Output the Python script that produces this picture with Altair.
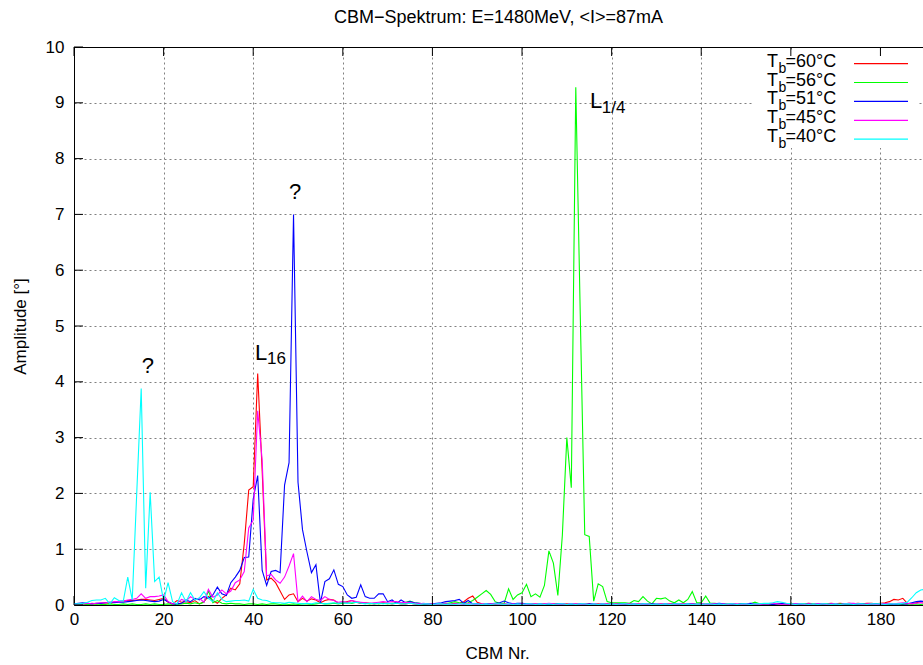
import altair as alt
import pandas as pd

# ---------------- data ----------------
cbm_nr = list(range(191))

amp_60 = [
    0.01, 0.02, 0.02, 0.01, 0.03, 0.02, 0.03, 0.04, 0.03, 0.05,
    0.06, 0.07, 0.08, 0.08, 0.09, 0.10, 0.10, 0.09, 0.08, 0.10,
    0.12, 0.05, 0.02, 0.08, 0.05, 0.06, 0.04, 0.08, 0.02, 0.06,
    0.15, 0.08, 0.03, 0.12, 0.18, 0.30, 0.27, 0.38, 1.10, 2.06,
    2.12, 4.15, 2.40, 0.45, 0.48, 0.40, 0.25, 0.10, 0.18, 0.20,
    0.06, 0.12, 0.07, 0.11, 0.09, 0.04, 0.08, 0.10, 0.09, 0.03,
    0.04, 0.06, 0.08, 0.05, 0.03, 0.04, 0.03, 0.02, 0.03, 0.04,
    0.03, 0.02, 0.03, 0.02, 0.02, 0.03, 0.02, 0.01, 0.02, 0.02,
    0.02, 0.01, 0.02, 0.03, 0.02, 0.03, 0.03, 0.06, 0.12, 0.16,
    0.05, 0.02, 0.01, 0.02, 0.01, 0.02, 0.02, 0.01, 0.02, 0.01,
    0.02, 0.01, 0.02, 0.02, 0.01, 0.02, 0.01, 0.02, 0.02, 0.01,
    0.02, 0.01, 0.02, 0.01, 0.02, 0.02, 0.01, 0.02, 0.01, 0.02,
    0.01, 0.02, 0.02, 0.01, 0.02, 0.01, 0.02, 0.01, 0.02, 0.02,
    0.01, 0.02, 0.01, 0.02, 0.02, 0.01, 0.02, 0.01, 0.02, 0.02,
    0.01, 0.02, 0.02, 0.01, 0.02, 0.01, 0.02, 0.02, 0.01, 0.02,
    0.02, 0.01, 0.02, 0.01, 0.02, 0.02, 0.01, 0.02, 0.02, 0.01,
    0.02, 0.01, 0.02, 0.02, 0.03, 0.02, 0.01, 0.02, 0.02, 0.03,
    0.02, 0.03, 0.02, 0.03, 0.02, 0.03, 0.02, 0.03, 0.03, 0.02,
    0.03, 0.04, 0.06, 0.10, 0.09, 0.12, 0.03, 0.02, 0.04, 0.06, 0.05,
]

amp_56 = [
    0.01, 0.01, 0.02, 0.01, 0.01, 0.02, 0.01, 0.01, 0.02, 0.01,
    0.01, 0.02, 0.01, 0.02, 0.01, 0.01, 0.02, 0.01, 0.02, 0.01,
    0.01, 0.02, 0.01, 0.01, 0.02, 0.03, 0.02, 0.04, 0.02, 0.05,
    0.25, 0.04, 0.08, 0.03, 0.02, 0.03, 0.02, 0.02, 0.01, 0.02,
    0.02, 0.01, 0.02, 0.01, 0.02, 0.02, 0.01, 0.02, 0.01, 0.02,
    0.01, 0.02, 0.02, 0.01, 0.02, 0.03, 0.02, 0.02, 0.03, 0.02,
    0.03, 0.04, 0.03, 0.05, 0.04, 0.03, 0.02, 0.03, 0.02, 0.03,
    0.02, 0.03, 0.04, 0.03, 0.05, 0.07, 0.04, 0.03, 0.02, 0.02,
    0.02, 0.01, 0.02, 0.02, 0.04, 0.06, 0.04, 0.03, 0.04, 0.08,
    0.14, 0.20, 0.26, 0.19, 0.06, 0.03, 0.03, 0.29, 0.10, 0.18,
    0.22, 0.37, 0.15, 0.20, 0.14, 0.35, 0.97, 0.75, 0.17, 1.25,
    3.00, 2.10, 9.28, 5.20, 1.26, 1.23, 0.07, 0.38, 0.33, 0.06,
    0.04, 0.04, 0.04, 0.04, 0.03, 0.08, 0.06, 0.15, 0.07, 0.02,
    0.12, 0.11, 0.13, 0.07, 0.04, 0.09, 0.04, 0.10, 0.24, 0.04,
    0.04, 0.16, 0.03, 0.03, 0.02, 0.02, 0.01, 0.02, 0.01, 0.02,
    0.01, 0.02, 0.05, 0.02, 0.01, 0.02, 0.01, 0.02, 0.01, 0.01,
    0.02, 0.01, 0.01, 0.02, 0.01, 0.02, 0.01, 0.01, 0.02, 0.01,
    0.01, 0.02, 0.01, 0.02, 0.01, 0.01, 0.02, 0.01, 0.02, 0.01,
    0.02, 0.01, 0.02, 0.01, 0.02, 0.01, 0.02, 0.01, 0.02, 0.01, 0.02,
]

amp_51 = [
    0.02, 0.03, 0.04, 0.03, 0.02, 0.03, 0.03, 0.04, 0.05, 0.04,
    0.05, 0.05, 0.06, 0.07, 0.08, 0.09, 0.08, 0.07, 0.06, 0.07,
    0.10, 0.06, 0.02, 0.02, 0.03, 0.09, 0.06, 0.12, 0.09, 0.15,
    0.12, 0.18, 0.32, 0.20, 0.17, 0.40, 0.50, 0.62, 0.85, 0.86,
    1.90, 2.32, 0.62, 0.35, 0.60, 0.62, 0.58, 2.15, 2.55, 7.00,
    2.20, 1.35, 0.95, 0.58, 0.72, 0.04, 0.42, 0.47, 0.63, 0.37,
    0.33, 0.18, 0.12, 0.14, 0.36, 0.15, 0.12, 0.12, 0.20, 0.20,
    0.06, 0.09, 0.03, 0.09, 0.04, 0.06, 0.04, 0.03, 0.02, 0.02,
    0.02, 0.03, 0.04, 0.06, 0.07, 0.08, 0.10, 0.03, 0.08, 0.02,
    0.02, 0.01, 0.02, 0.02, 0.03, 0.04, 0.07, 0.04, 0.02, 0.03,
    0.03, 0.02, 0.02, 0.01, 0.02, 0.01, 0.02, 0.01, 0.02, 0.02,
    0.01, 0.02, 0.01, 0.02, 0.01, 0.02, 0.02, 0.01, 0.02, 0.01,
    0.02, 0.01, 0.02, 0.02, 0.01, 0.02, 0.01, 0.02, 0.01, 0.02,
    0.02, 0.01, 0.02, 0.01, 0.02, 0.02, 0.01, 0.02, 0.02, 0.01,
    0.02, 0.01, 0.02, 0.02, 0.03, 0.02, 0.01, 0.02, 0.01, 0.02,
    0.02, 0.03, 0.02, 0.01, 0.02, 0.02, 0.01, 0.02, 0.03, 0.02,
    0.01, 0.02, 0.02, 0.01, 0.02, 0.01, 0.02, 0.02, 0.01, 0.02,
    0.02, 0.01, 0.02, 0.02, 0.01, 0.02, 0.02, 0.01, 0.02, 0.02,
    0.01, 0.02, 0.02, 0.01, 0.02, 0.02, 0.02, 0.04, 0.06, 0.07, 0.06,
]

amp_45 = [
    0.01, 0.02, 0.02, 0.03, 0.02, 0.03, 0.04, 0.04, 0.05, 0.06,
    0.06, 0.07, 0.09, 0.10, 0.12, 0.20, 0.12, 0.15, 0.15, 0.16,
    0.18, 0.06, 0.02, 0.03, 0.10, 0.07, 0.15, 0.10, 0.12, 0.05,
    0.28, 0.14, 0.18, 0.27, 0.20, 0.25, 0.40, 0.45, 0.60, 1.38,
    1.52, 3.48, 2.60, 0.52, 0.55, 0.45, 0.39, 0.50, 0.70, 0.92,
    0.06, 0.16, 0.06, 0.15, 0.10, 0.08, 0.15, 0.10, 0.08, 0.05,
    0.06, 0.05, 0.08, 0.06, 0.05, 0.04, 0.03, 0.04, 0.05, 0.06,
    0.05, 0.06, 0.06, 0.04, 0.05, 0.04, 0.03, 0.02, 0.03, 0.02,
    0.02, 0.01, 0.02, 0.02, 0.01, 0.02, 0.02, 0.01, 0.02, 0.02,
    0.01, 0.02, 0.01, 0.02, 0.02, 0.01, 0.02, 0.01, 0.02, 0.01,
    0.02, 0.01, 0.02, 0.02, 0.01, 0.02, 0.03, 0.02, 0.01, 0.02,
    0.01, 0.02, 0.02, 0.01, 0.02, 0.01, 0.02, 0.01, 0.02, 0.02,
    0.01, 0.02, 0.01, 0.02, 0.02, 0.01, 0.02, 0.01, 0.02, 0.01,
    0.02, 0.02, 0.01, 0.02, 0.01, 0.02, 0.02, 0.01, 0.02, 0.01,
    0.02, 0.01, 0.02, 0.02, 0.01, 0.02, 0.01, 0.02, 0.02, 0.01,
    0.02, 0.01, 0.02, 0.01, 0.02, 0.02, 0.03, 0.02, 0.01, 0.02,
    0.01, 0.02, 0.02, 0.01, 0.02, 0.01, 0.02, 0.02, 0.01, 0.02,
    0.02, 0.01, 0.02, 0.03, 0.03, 0.02, 0.01, 0.02, 0.02, 0.01,
    0.02, 0.02, 0.03, 0.02, 0.03, 0.04, 0.03, 0.02, 0.03, 0.04, 0.03,
]

amp_40 = [
    0.02, 0.02, 0.03, 0.05, 0.08, 0.09, 0.09, 0.12, 0.02, 0.13,
    0.08, 0.07, 0.50, 0.09, 2.00, 3.88, 0.30, 2.02, 0.42, 0.50,
    0.08, 0.40, 0.06, 0.02, 0.22, 0.06, 0.22, 0.09, 0.13, 0.24,
    0.12, 0.06, 0.22, 0.10, 0.06, 0.07, 0.08, 0.08, 0.09, 0.07,
    0.28, 0.12, 0.09, 0.08, 0.05, 0.04, 0.04, 0.03, 0.05, 0.04,
    0.03, 0.02, 0.03, 0.02, 0.04, 0.03, 0.02, 0.03, 0.04, 0.03,
    0.04, 0.03, 0.04, 0.05, 0.03, 0.02, 0.03, 0.02, 0.03, 0.02,
    0.03, 0.02, 0.03, 0.02, 0.02, 0.03, 0.02, 0.01, 0.02, 0.02,
    0.01, 0.02, 0.02, 0.01, 0.02, 0.01, 0.02, 0.02, 0.01, 0.02,
    0.02, 0.01, 0.02, 0.01, 0.02, 0.02, 0.01, 0.02, 0.01, 0.02,
    0.01, 0.02, 0.02, 0.01, 0.02, 0.01, 0.02, 0.01, 0.02, 0.02,
    0.01, 0.02, 0.01, 0.02, 0.02, 0.01, 0.02, 0.01, 0.02, 0.01,
    0.02, 0.01, 0.02, 0.02, 0.01, 0.02, 0.01, 0.02, 0.02, 0.01,
    0.02, 0.01, 0.02, 0.01, 0.02, 0.02, 0.01, 0.02, 0.01, 0.02,
    0.01, 0.02, 0.02, 0.01, 0.02, 0.01, 0.02, 0.02, 0.01, 0.02,
    0.02, 0.01, 0.02, 0.02, 0.03, 0.03, 0.04, 0.06, 0.05, 0.03,
    0.02, 0.01, 0.02, 0.02, 0.01, 0.02, 0.01, 0.02, 0.02, 0.01,
    0.02, 0.01, 0.02, 0.02, 0.01, 0.02, 0.02, 0.01, 0.02, 0.02,
    0.02, 0.01, 0.02, 0.02, 0.02, 0.03, 0.05, 0.13, 0.22, 0.27, 0.28,
]

temps = ["60", "56", "51", "45", "40"]
series = [amp_60, amp_56, amp_51, amp_45, amp_40]
colors = ["#ff0000", "#00ff00", "#0000ff", "#ff00ff", "#00ffff"]

x_ticks = [0, 20, 40, 60, 80, 100, 120, 140, 160, 180]
y_ticks = [0, 1, 2, 3, 4, 5, 6, 7, 8, 9, 10]

title_text = "CBM\u2212Spektrum: E=1480MeV, <I>=87mA"

# annotations (text, x, y) in data coordinates
ann_main = [("?", 15.1, 4.28), ("L", 40.4, 4.51), ("?", 48.0, 7.40), ("L", 115.2, 9.03)]
ann_sub = [("16", 43.1, 4.40), ("1/4", 117.8, 8.91)]

# ---------------- chart ----------------
FONT = "Liberation Sans"
W, H = 849, 558
PAD_L, PAD_T = 74, 47

xscale = alt.Scale(domain=[0, 189.5], nice=False, zero=False)
yscale = alt.Scale(domain=[0, 10], nice=False)

x_axis = alt.Axis(
    values=x_ticks, title="CBM Nr.", grid=True, ticks=False, tickSize=0,
    labelPadding=6, labelFlush=False, labelOverlap=False,
    domainColor="black", domainWidth=1,
    gridColor="#808080", gridDash=[2, 3], gridWidth=1,
    labelFont=FONT, labelFontSize=17, labelColor="black",
    titleFont=FONT, titleFontSize=17, titleFontWeight="normal", titleColor="black",
    titleX=423, titleY=48, titleAlign="center", titleBaseline="middle",
)
y_axis = alt.Axis(
    values=y_ticks, title="Amplitude [°]", grid=True, ticks=False, tickSize=0,
    labelPadding=10, labelFlush=False, labelOverlap=False,
    domainColor="black", domainWidth=1,
    gridColor="#808080", gridDash=[2, 3], gridWidth=1,
    labelFont=FONT, labelFontSize=17, labelColor="black",
    titleFont=FONT, titleFontSize=17, titleFontWeight="normal", titleColor="black",
    titleX=-54, titleY=H / 2, titleAngle=270, titleAlign="center", titleBaseline="middle",
)


def X(field):
    return alt.X(field, scale=xscale, axis=x_axis)


def Y(field):
    return alt.Y(field, scale=yscale, axis=y_axis)


layers = []
for t, vals, c in zip(temps, series, colors):
    d = pd.DataFrame({"cbm": cbm_nr, "amp": vals})
    layers.append(
        alt.Chart(d).mark_line(color=c, strokeWidth=1.1, clip=True).encode(
            x=X("cbm:Q"), y=Y("amp:Q")
        )
    )

one = pd.DataFrame({"k": [0]})

# top border
layers.append(
    alt.Chart(one).mark_rule(color="black", strokeWidth=1).encode(
        x=alt.value(0), x2=alt.value(W), y=alt.value(0.5)
    )
)

# opaque key box
layers.append(
    alt.Chart(one).mark_rect(color="white").encode(
        x=alt.value(678), x2=alt.value(845), y=alt.value(3), y2=alt.value(101)
    )
)

# inward ticks
xt = pd.DataFrame({"cbm": x_ticks})
yt = pd.DataFrame({"amp": y_ticks})
layers.append(
    alt.Chart(xt).mark_rule(color="black").encode(
        x=X("cbm:Q"), y=alt.value(H), y2=alt.value(H - 9)
    )
)
layers.append(
    alt.Chart(xt).mark_rule(color="black").encode(
        x=X("cbm:Q"), y=alt.value(0), y2=alt.value(9)
    )
)
layers.append(
    alt.Chart(yt).mark_rule(color="black").encode(
        y=Y("amp:Q"), x=alt.value(0), x2=alt.value(9)
    )
)

# key entries
for i, (t, c) in enumerate(zip(temps, colors)):
    rc = 14.6 + 18.9 * i
    layers.append(alt.Chart(one).mark_text(text="T", align="left", baseline="middle",
                                           font=FONT, fontSize=18, color="black")
                  .encode(x=alt.value(693), y=alt.value(rc)))
    layers.append(alt.Chart(one).mark_text(text="b", align="left", baseline="middle",
                                           font=FONT, fontSize=14, color="black")
                  .encode(x=alt.value(704.5), y=alt.value(rc + 7)))
    layers.append(alt.Chart(one).mark_text(text=f"={t}°C", align="left", baseline="middle",
                                           font=FONT, fontSize=18, color="black")
                  .encode(x=alt.value(711.5), y=alt.value(rc)))
    layers.append(alt.Chart(one).mark_rule(color=c, strokeWidth=1.2)
                  .encode(x=alt.value(780), x2=alt.value(834), y=alt.value(rc + 2)))

# annotations
am = pd.DataFrame({"cbm": [a[1] for a in ann_main], "amp": [a[2] for a in ann_main],
                   "txt": [a[0] for a in ann_main]})
asub = pd.DataFrame({"cbm": [a[1] for a in ann_sub], "amp": [a[2] for a in ann_sub],
                     "txt": [a[0] for a in ann_sub]})
layers.append(
    alt.Chart(am).mark_text(align="left", baseline="middle", font=FONT, fontSize=22, color="black").encode(
        x=X("cbm:Q"), y=Y("amp:Q"), text="txt:N"
    )
)
layers.append(
    alt.Chart(asub).mark_text(align="left", baseline="middle", font=FONT, fontSize=17, color="black").encode(
        x=X("cbm:Q"), y=Y("amp:Q"), text="txt:N"
    )
)

chart = (
    alt.layer(*layers)
    .properties(
        width=W, height=H,
        autosize=alt.AutoSizeParams(type="none"),
        padding={"left": PAD_L, "top": PAD_T, "right": 0, "bottom": 665 - PAD_T - H},
        title=alt.TitleParams(text=title_text, anchor="middle", font=FONT, fontSize=18,
                              fontWeight="normal", color="black", offset=11),
        background="white",
    )
    .configure_view(stroke=None)
)

chart.save("out.html", embed_options={"renderer": "svg", "actions": False})
